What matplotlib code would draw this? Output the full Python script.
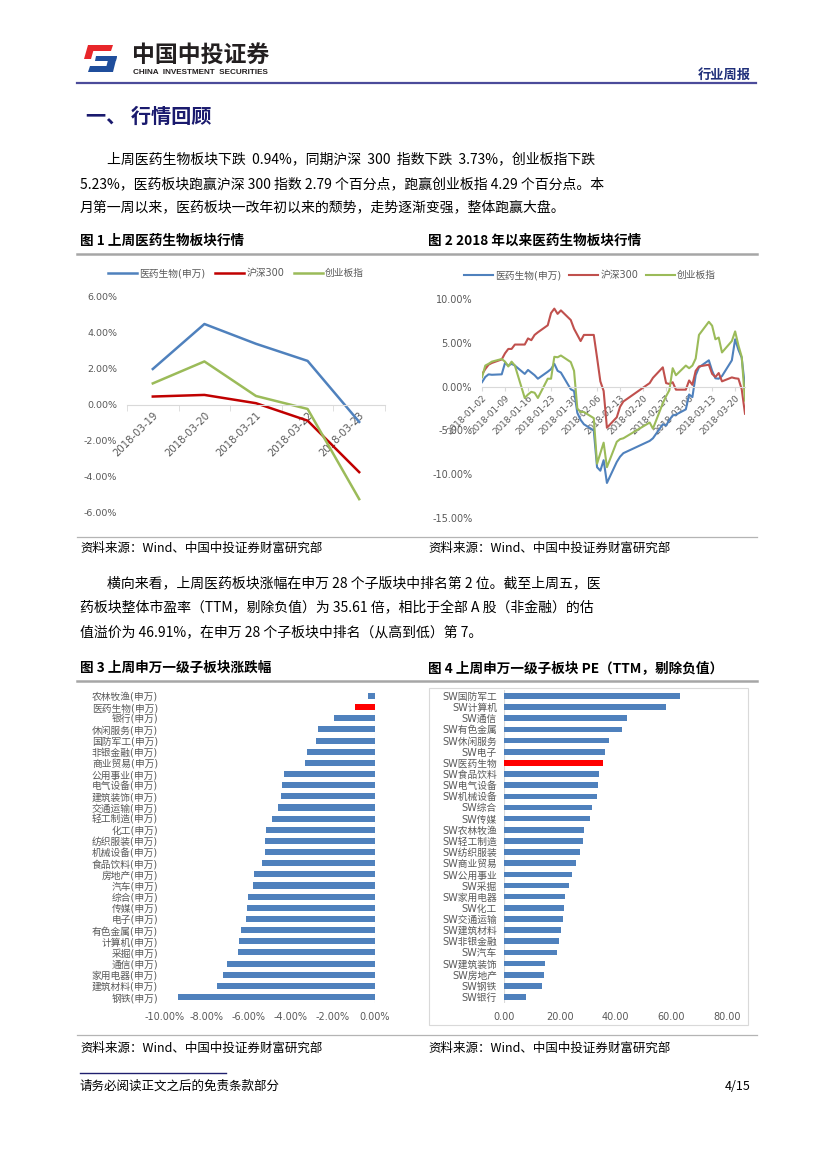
#!/usr/bin/env python
# -*- coding: utf-8 -*-
"""Weekly report page 4: market review with four charts."""

import numpy as np
import pandas as pd
import matplotlib as mpl; mpl.use('Agg')
import matplotlib.pyplot as plt
import matplotlib.dates as mdates
from matplotlib.lines import Line2D
from matplotlib.patches import Polygon, Rectangle
from matplotlib.ticker import FuncFormatter

plt.rcParams['font.family'] = ['DejaVu Sans', 'Noto Sans CJK SC']
plt.rcParams['axes.unicode_minus'] = False
CJK = ['Noto Sans CJK SC', 'DejaVu Sans']

# --- data: fig 1, last week (%)
days1 = ['2018-03-19', '2018-03-20', '2018-03-21', '2018-03-22', '2018-03-23']
med1 = [2.00, 4.50, 3.40, 2.45, -0.94]
hs1 = [0.47, 0.56, 0.10, -0.87, -3.73]
cyb1 = [1.20, 2.42, 0.50, -0.22, -5.23]
names = ['医药生物(申万)', '沪深300', '创业板指']

# --- data: fig 2, since 2018-01-01 (%)
days2 = [
    '01-02', '01-03', '01-04', '01-05', '01-08', '01-09', '01-10', '01-11',
    '01-12', '01-15', '01-16', '01-17', '01-18', '01-19', '01-22', '01-23',
    '01-24', '01-25', '01-26', '01-29', '01-30', '01-31',
    '02-01', '02-02', '02-05', '02-06', '02-07', '02-08', '02-09', '02-12',
    '02-13', '02-14', '02-22', '02-23', '02-26', '02-27', '02-28',
    '03-01', '03-02', '03-05', '03-06', '03-07', '03-08', '03-09', '03-12',
    '03-13', '03-14', '03-15', '03-16', '03-19', '03-20', '03-21', '03-22',
    '03-23',
]
med2 = [
    0.5, 1.1, 1.4, 1.35, 1.4, 2.7, 2.4, 2.6, 2.4, 1.45, 1.9, 1.6, 1.3, 0.9,
    1.7, 2.0, 2.6, 1.8, 1.6, -0.3, -0.5, -3.0,
    -3.8, -4.3, -5.0, -9.2, -9.6, -8.4, -11.0, -8.6, -8.0, -7.6, -6.2, -5.9,
    -4.3, -4.45, -3.8,
    -3.3, -3.2, -2.6, -0.9, -1.2, 1.3, 2.2, 3.0, 1.8, 0.95, 0.9, 1.2, 3.0,
    5.4, 4.2, 3.3, -0.1,
]
hs2 = [
    1.4, 2.0, 2.5, 2.7, 3.1, 3.8, 4.3, 4.3, 4.8, 4.8, 5.5, 5.3, 5.9, 6.2,
    7.0, 8.4, 8.9, 8.3, 8.7, 7.6, 6.6, 5.9,
    5.2, 5.9, 5.9, 3.3, 0.6, -0.5, -4.7, -3.5, -2.3, -1.7, 0.4, 1.0,
    2.2, 0.4, 0.3,
    0.5, -0.35, -0.35, 0.7, 0.2, 1.8, 2.3, 2.5, 1.45, 1.1, 1.55, 0.6, 1.05,
    0.95, 0.9, -0.3, -3.1,
]
cyb2 = [
    1.05, 2.4, 2.6, 2.85, 3.15, 2.85, 2.3, 2.85, 2.4, -1.3, -0.9, -0.6,
    -0.7, -1.3, 0.9, 0.9, 3.4, 3.35, 3.55, 2.8, 1.8, -2.5,
    -2.9, -2.9, -3.6, -8.8, -7.6, -6.4, -9.2, -6.3, -6.0, -5.9, -4.1, -4.8,
    -1.9, -1.1, -0.4,
    2.1, 1.3, 2.4, 2.1, 2.4, 3.2, 5.9, 7.4, 6.95, 5.4, 5.6, 3.9, 5.2,
    6.3, 4.7, 3.4, -1.6,
]

# --- data: fig 3, weekly change by SW sector (%)
cats3 = [
    '农林牧渔(申万)', '医药生物(申万)', '银行(申万)', '休闲服务(申万)',
    '国防军工(申万)', '非银金融(申万)', '商业贸易(申万)', '公用事业(申万)',
    '电气设备(申万)', '建筑装饰(申万)', '交通运输(申万)', '轻工制造(申万)',
    '化工(申万)', '纺织服装(申万)', '机械设备(申万)', '食品饮料(申万)',
    '房地产(申万)', '汽车(申万)', '综合(申万)', '传媒(申万)', '电子(申万)',
    '有色金属(申万)', '计算机(申万)', '采掘(申万)', '通信(申万)',
    '家用电器(申万)', '建筑材料(申万)', '钢铁(申万)',
]
vals3 = [
    -0.32, -0.94, -1.94, -2.70, -2.81, -3.22, -3.33, -4.33, -4.43, -4.48,
    -4.62, -4.90, -5.19, -5.24, -5.25, -5.38, -5.76, -5.79, -6.03, -6.10,
    -6.14, -6.38, -6.48, -6.52, -7.06, -7.24, -7.52, -9.37,
]

# --- data: fig 4, PE (TTM) by SW sector
cats4 = [
    'SW国防军工', 'SW计算机', 'SW通信', 'SW有色金属', 'SW休闲服务', 'SW电子',
    'SW医药生物', 'SW食品饮料', 'SW电气设备', 'SW机械设备', 'SW综合', 'SW传媒',
    'SW农林牧渔', 'SW轻工制造', 'SW纺织服装', 'SW商业贸易', 'SW公用事业',
    'SW采掘', 'SW家用电器', 'SW化工', 'SW交通运输', 'SW建筑材料', 'SW非银金融',
    'SW汽车', 'SW建筑装饰', 'SW房地产', 'SW钢铁', 'SW银行',
]
vals4 = [
    63.3, 58.2, 44.2, 42.4, 37.8, 36.2, 35.61, 34.2, 33.8, 33.4, 31.6, 30.9,
    28.8, 28.4, 27.3, 25.9, 24.4, 23.4, 21.9, 21.6, 21.2, 20.5, 19.8, 19.1,
    14.8, 14.4, 13.7, 7.9,
]

para1 = [
    '上周医药生物板块下跌  0.94%，同期沪深  300  指数下跌  3.73%，创业板指下跌',
    '5.23%，医药板块跑赢沪深 300 指数 2.79 个百分点，跑赢创业板指 4.29 个百分点。本',
    '月第一周以来，医药板块一改年初以来的颓势，走势逐渐变强，整体跑赢大盘。',
]
para2 = [
    '横向来看，上周医药板块涨幅在申万 28 个子版块中排名第 2 位。截至上周五，医',
    '药板块整体市盈率（TTM，剔除负值）为 35.61 倍，相比于全部 A 股（非金融）的估',
    '值溢价为 46.91%，在申万 28 个子板块中排名（从高到低）第 7。',
]
SOURCE = '资料来源：Wind、中国中投证券财富研究部'

BLUE, GREEN, GRAY = '#4F81BD', '#9BBB59', '#595959'

# --- page helpers (pixel coords, y down)
W, H = 827, 1169
fig = plt.figure(figsize=(W/100, H/100), dpi=100)

def fx(x): return x / W
def fy(y): return 1 - y / H
def box(x0, y0, x1, y1): return [fx(x0), fy(y1), (x1-x0)/W, (y1-y0)/H]

def text(x, y, s, size, **kw):
    kw.setdefault('family', CJK)
    fig.text(fx(x), fy(y), s, fontsize=size, va='center', **kw)

def rule(y, x0, x1, color, lw):
    fig.add_artist(Line2D([fx(x0), fx(x1)], [fy(y), fy(y)], color=color,
                          lw=lw, transform=fig.transFigure))

def shape(pts, color):
    fig.add_artist(Polygon([(fx(a), fy(b)) for a, b in pts], closed=True,
                           color=color, transform=fig.transFigure, lw=0))

# --- header
shape([(89, 45), (113, 45), (111, 51), (88, 51)], '#E8262A')
shape([(88, 45), (95, 45), (91, 59), (84, 59)], '#E8262A')
shape([(96, 56), (117, 56), (116, 61), (95, 61)], '#1F4E9C')
shape([(109, 56), (117, 56), (113, 72), (105, 72)], '#1F4E9C')
shape([(90, 66), (112, 66), (110, 72), (88, 72)], '#1F4E9C')
text(132, 55, '中国中投证券', 16.5, fontweight='bold', color='#231F20')
text(133, 73, 'CHINA  INVESTMENT  SECURITIES', 5.9, fontweight='bold',
     color='#231F20', family=['Liberation Sans'])
text(751, 75, '行业周报', 9.5, ha='right', fontweight='bold', color='#1F2F7A')
rule(83, 77, 756, '#4B4B9A', 1.6)
text(86, 116, '一、 行情回顾', 14.5, fontweight='bold', color='#1A1A6E')

# --- paragraphs, captions
for i, (s, y) in enumerate(zip(para1, [159, 184, 207])):
    text(107 if i == 0 else 80, y, s, 10)
for i, (s, y) in enumerate(zip(para2, [583, 608, 632])):
    text(107 if i == 0 else 80, y, s, 10)

text(80, 241, '图 1 上周医药生物板块行情', 9.8, fontweight='bold')
text(428, 241, '图 2 2018 年以来医药生物板块行情', 9.8, fontweight='bold')
text(80, 668, '图 3 上周申万一级子板块涨跌幅', 9.8, fontweight='bold')
text(428, 668, '图 4 上周申万一级子板块 PE（TTM，剔除负值）', 9.8, fontweight='bold')
for y in (254, 681):
    rule(y, 77, 757, '#A6A6A6', 1.8)
for y in (537, 1035):
    rule(y, 77, 757, '#B4B4B4', 0.9)
for y in (548, 1048):
    text(80, y, SOURCE, 9)
    text(428, y, SOURCE, 9)

rule(1073, 80, 226, '#1F1F6E', 1.0)
text(80, 1086, '请务必阅读正文之后的免责条款部分', 9)
text(751, 1086, '4/15', 9, ha='right')

pct = FuncFormatter(lambda v, p: f'{v:.2f}%')


def style_line_axes(ax, ysize):
    for k in ('top', 'right', 'left'):
        ax.spines[k].set_visible(False)
    ax.spines['bottom'].set_position(('data', 0))
    ax.spines['bottom'].set_color('#D9D9D9')
    ax.yaxis.set_major_formatter(pct)
    ax.tick_params(axis='y', length=0, labelsize=ysize, labelcolor=GRAY, pad=7)
    ax.patch.set_alpha(0)


# --- fig 1
ax1 = fig.add_axes(box(127, 297, 385, 513))
x1 = np.arange(len(days1))
ax1.plot(x1, med1, color=BLUE, lw=1.8, label=names[0])
ax1.plot(x1, hs1, color='#C00000', lw=1.8, label=names[1])
ax1.plot(x1, cyb1, color=GREEN, lw=1.8, label=names[2])
ax1.set_xlim(-0.5, len(days1) - 0.5)
ax1.set_ylim(-6, 6)
ax1.set_yticks(np.arange(-6, 7, 2))
style_line_axes(ax1, 6.8)
ax1.set_xticks(x1, days1, rotation=45, ha='right', rotation_mode='anchor')
ax1.set_xticks(np.arange(-0.5, len(days1), 1), minor=True)
ax1.tick_params(axis='x', which='major', length=0, labelsize=7.3,
                labelcolor=GRAY, pad=4)
ax1.tick_params(axis='x', which='minor', length=4, color='#D9D9D9')
ax1.legend(ncol=3, loc='center', bbox_to_anchor=(fx(236), fy(273)),
           bbox_transform=fig.transFigure, frameon=False, fontsize=7,
           handlelength=3.0, handletextpad=0.2, columnspacing=1.0,
           labelcolor=GRAY)

# --- fig 2
ax2 = fig.add_axes(box(482, 299, 745, 518))
d2 = pd.to_datetime(['2018-' + s for s in days2])
ax2.plot(d2, med2, color=BLUE, lw=1.5, label=names[0])
ax2.plot(d2, hs2, color='#C0504D', lw=1.5, label=names[1])
ax2.plot(d2, cyb2, color=GREEN, lw=1.5, label=names[2])
ax2.set_xlim(d2[0], d2[-1])
ax2.set_ylim(-15, 10)
ax2.set_yticks(np.arange(-15, 11, 5))
style_line_axes(ax2, 7)
ax2.xaxis.set_major_locator(mdates.WeekdayLocator(byweekday=mdates.TU))
ax2.xaxis.set_major_formatter(mdates.DateFormatter('%Y-%m-%d'))
plt.setp(ax2.get_xticklabels(), rotation=45, ha='right', rotation_mode='anchor')
ax2.tick_params(axis='x', length=3, color='#D9D9D9', labelsize=6.4,
                labelcolor=GRAY, pad=2)
ax2.legend(ncol=3, loc='center', bbox_to_anchor=(fx(590), fy(275)),
           bbox_transform=fig.transFigure, frameon=False, fontsize=7,
           handlelength=3.0, handletextpad=0.2, columnspacing=0.8,
           labelcolor=GRAY)


def style_bar_axes(ax):
    for k in ax.spines:
        ax.spines[k].set_visible(False)
    ax.tick_params(axis='y', length=0, labelsize=7, labelcolor=GRAY, pad=5)
    ax.tick_params(axis='x', length=0, labelsize=7, labelcolor=GRAY, pad=7)
    ax.axvline(0, color='#D9D9D9', lw=0.8, zorder=0)
    ax.patch.set_alpha(0)


# --- fig 3
ax3 = fig.add_axes(box(165, 690.4, 375, 1002.6))
y3 = np.arange(len(cats3))
c3 = ['#FF0000' if c.startswith('医药生物') else BLUE for c in cats3]
ax3.barh(y3, vals3, height=0.55, color=c3)
ax3.set_ylim(len(cats3) - 0.5, -0.5)
ax3.set_xlim(-10, 0)
ax3.set_yticks(y3, cats3)
ax3.set_xticks(np.arange(-10, 1, 2))
ax3.xaxis.set_major_formatter(pct)
style_bar_axes(ax3)

# --- fig 4
fig.add_artist(Rectangle((fx(429), fy(1025)), (748-429)/W, (1025-688)/H,
                         fill=False, edgecolor='#D9D9D9', lw=0.8,
                         transform=fig.transFigure))
ax4 = fig.add_axes(box(504, 690.4, 727, 1002.6))
y4 = np.arange(len(cats4))
c4 = ['#FF0000' if c == 'SW医药生物' else BLUE for c in cats4]
ax4.barh(y4, vals4, height=0.5, color=c4)
ax4.set_ylim(len(cats4) - 0.5, -0.5)
ax4.set_xlim(0, 80)
ax4.set_yticks(y4, cats4)
ax4.set_xticks(np.arange(0, 81, 20))
ax4.xaxis.set_major_formatter(FuncFormatter(lambda v, p: f'{v:.2f}'))
style_bar_axes(ax4)

fig.savefig('out.png', dpi=100)
